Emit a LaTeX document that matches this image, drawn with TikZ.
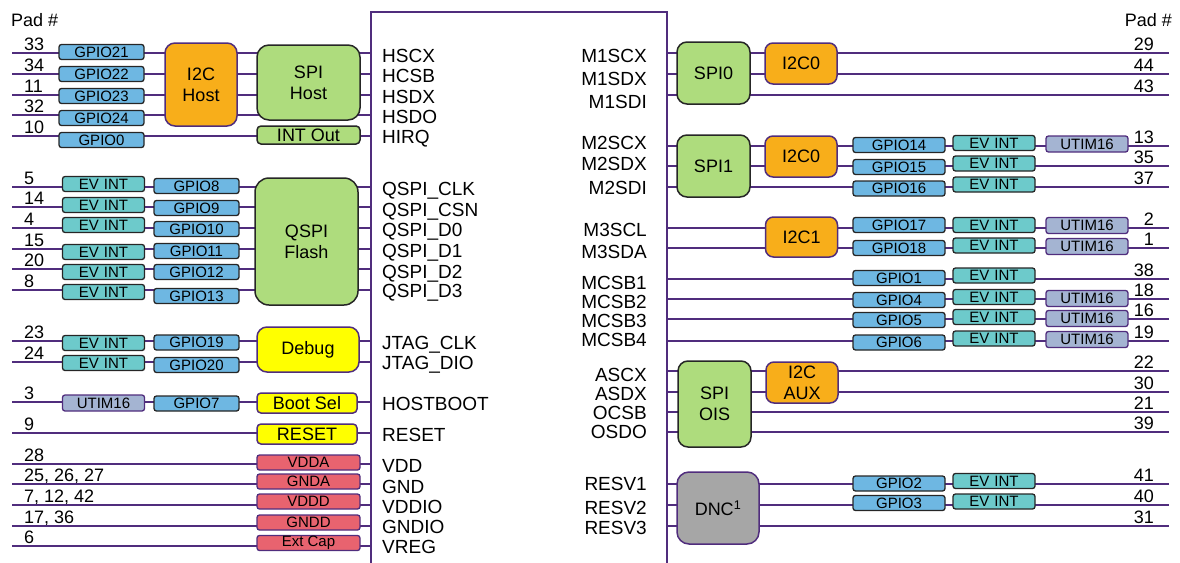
\documentclass[tikz,border=0pt]{standalone}
\usepackage{fontspec}
\setmainfont{Liberation Sans}
\definecolor{pinline}{HTML}{502D7D}
\definecolor{gpioblue}{HTML}{6EB7E2}
\definecolor{evteal}{HTML}{6DCACB}
\definecolor{utimgrey}{HTML}{A4B4D2}
\definecolor{i2corange}{HTML}{F8AE1A}
\definecolor{spigreen}{HTML}{AEDC7D}
\definecolor{bootyellow}{HTML}{FFFF00}
\definecolor{pwrred}{HTML}{E8636F}
\definecolor{dncgrey}{HTML}{A6A6A6}
\newcommand{\setsz}[1]{\fontsize{#1}{#1}\selectfont}
\newcommand{\evtxt}{EV\hspace{5pt}INT}

\begin{document}
\begin{tikzpicture}[x=1pt,y=-1pt,
  pin/.style={draw=pinline,line width=1.7pt},
  chipbox/.style={draw=pinline,line width=1.7pt,fill=white,inner sep=0,
    minimum width=296pt,minimum height=588pt},
  smallbox/.style={rounded corners=2.5pt,line width=1.3pt,inner sep=0,
    minimum height=15pt,font=\setsz{15}},
  gpio/.style={smallbox,draw=black!85,fill=gpioblue,minimum width=85pt},
  gpior/.style={gpio,minimum width=92pt},
  evint/.style={smallbox,draw=black!85,fill=evteal,minimum width=82pt},
  utim/.style={smallbox,draw=pinline,fill=utimgrey,minimum height=16pt,minimum width=82pt},
  pwrblk/.style={smallbox,draw=pinline,fill=pwrred,minimum width=103pt},
  bigbox/.style={rounded corners=10pt,line width=1.5pt,inner sep=0,align=center,
    font=\fontsize{18}{21}\selectfont},
  spiblk/.style={bigbox,draw=black!85,fill=spigreen},
  i2cblk/.style={bigbox,draw=pinline,fill=i2corange},
  yelblk/.style={bigbox,draw=pinline,fill=bootyellow},
  pinlbl/.style={font=\setsz{19},inner sep=0},
  padnum/.style={font=\setsz{18},inner sep=0}]
  \useasboundingbox (0,0) rectangle (1180,562);

  % the chip
  \node[chipbox] (chip) at (519,306) {};

  % left pads and their lines
  \node[padnum,anchor=base west] (padl) at (11,26.5) {Pad \#};
  \foreach \y/\n [count=\i] in {53/33, 74/34, 95/11, 115/32, 136/10,
      187/5, 207/14, 228/4, 249/15, 269/20, 290/8, 341/23, 362/24, 402/3,
      433/9, 464/28, 484/{25, 26, 27}, 505/{7, 12, 42}, 526/{17, 36}, 546/6} {
    \coordinate (L\i) at (12,\y);
    \node[padnum,anchor=base west] (LN\i) at (24,\y-3) {\n};
    \draw[pin] (L\i) -- (L\i -| chip.west);
  }

  % right pads and their lines
  \node[padnum,anchor=base east] (padr) at (1172,26.5) {Pad \#};
  \foreach \y/\n [count=\i] in {53/29, 74/44, 95/43, 146/13, 166/35, 187/37,
      228/2, 248/1, 279/38, 299/18, 319/16, 341/19, 371/22, 392/30, 412/21,
      432/39, 484/41, 505/40, 526/31} {
    \coordinate (R\i) at (1169,\y);
    \node[padnum,anchor=base east] (RN\i) at (1154,\y-3) {\n};
    \draw[pin] (R\i -| chip.east) -- (R\i);
  }

  % pin names
  \foreach \y/\t [count=\i] in {56/HSCX, 76/HCSB, 97/HSDX, 117/HSDO, 137/HIRQ,
      189/QSPI\_CLK, 210/QSPI\_CSN, 230/QSPI\_D0, 251/QSPI\_D1, 272/QSPI\_D2,
      291/QSPI\_D3, 343/JTAG\_CLK, 363/JTAG\_DIO, 404/HOSTBOOT, 435/RESET,
      466/VDD, 487/GND, 507/VDDIO, 527/GNDIO, 547/VREG}
    \node[pinlbl,anchor=base west] (PL\i) at (382,\y+6.5) {\t};
  \foreach \y/\t [count=\i] in {56/M1SCX, 79/M1SDX, 102/M1SDI, 143/M2SCX,
      164/M2SDX, 188/M2SDI, 230/M3SCL, 252/M3SDA, 283/MCSB1, 302/MCSB2,
      321/MCSB3, 340/MCSB4, 375/ASCX, 394/ASDX, 413/OCSB, 432/OSDO,
      484/RESV1, 508/RESV2, 528/RESV3}
    \node[pinlbl,anchor=base east] (PR\i) at (647,\y+6.5) {\t};

  % host interface
  \node[gpio] (g21) at (101.5,52) {GPIO21};
  \node[gpio] (g22) at (101.5,74) {GPIO22};
  \node[gpio] (g23) at (101.5,96) {GPIO23};
  \node[gpio] (g24) at (101.5,118) {GPIO24};
  \node[gpio] (g0) at (101.5,140) {GPIO0};
  \node[i2cblk,minimum width=72pt,minimum height=83pt] (i2chost) at (201,84.5) {I2C\\Host};
  \node[spiblk,rounded corners=12pt,minimum width=103pt,minimum height=75pt] (spihost) at (308.5,82.5) {SPI\\Host};
  \node[spiblk,rounded corners=4pt,minimum width=103pt,minimum height=18pt] (intout) at (308.5,135) {INT Out};

  % qspi flash
  \foreach \ye/\yg/\g [count=\i] in {184/186/8, 205/208/9, 225/229/10,
      252/251/11, 272/272/12, 292/296/13} {
    \node[evint] (evq\i) at (103.5,\ye) {\evtxt};
    \node[gpio] (g\g) at (196.5,\yg) {GPIO\g};
  }
  \node[spiblk,rounded corners=14pt,minimum width=103pt,minimum height=127pt] (qspi) at (306.5,241.5) {QSPI\\Flash};

  % debug, boot and reset
  \node[evint] (evd1) at (103.5,343) {\evtxt};
  \node[evint] (evd2) at (103.5,363) {\evtxt};
  \node[gpio] (g19) at (196.5,342.5) {GPIO19};
  \node[gpio] (g20) at (196.5,365) {GPIO20};
  \node[yelblk,minimum width=102pt,minimum height=45pt] (debug) at (308,349.5) {Debug};
  \node[utim] (utb) at (103.5,403) {UTIM16};
  \node[gpio] (g7) at (196.5,403.5) {GPIO7};
  \node[yelblk,rounded corners=4pt,minimum width=100pt,minimum height=20pt] (bootsel) at (307,403) {Boot Sel};
  \node[yelblk,rounded corners=4pt,minimum width=100pt,minimum height=20pt] (reset) at (307,434) {RESET};

  % supplies
  \node[pwrblk] (vdda) at (308.5,462.5) {VDDA};
  \node[pwrblk] (gnda) at (308.5,481.5) {GNDA};
  \node[pwrblk] (vddd) at (308.5,501.5) {VDDD};
  \node[pwrblk] (gndd) at (308.5,522.5) {GNDD};
  \node[pwrblk] (extcap) at (308.5,543) {Ext Cap};

  % secondary interfaces
  \node[spiblk,minimum width=73pt,minimum height=62pt] (spi0) at (713.5,73) {SPI0};
  \node[i2cblk,rounded corners=8pt,minimum width=72pt,minimum height=41pt] (i2c0a) at (801,63.5) {I2C0};
  \node[spiblk,minimum width=73pt,minimum height=62pt] (spi1) at (713.5,166) {SPI1};
  \node[i2cblk,rounded corners=8pt,minimum width=72pt,minimum height=41pt] (i2c0b) at (801,156.5) {I2C0};
  \node[i2cblk,rounded corners=8pt,minimum width=72pt,minimum height=40pt] (i2c1) at (801.5,237) {I2C1};
  \node[spiblk,minimum width=73pt,minimum height=86pt] (spiois) at (714.5,404) {SPI\\OIS};
  \node[i2cblk,rounded corners=8pt,minimum width=72pt,minimum height=41pt] (i2caux) at (802,382.5) {I2C\\AUX};
  \node[bigbox,draw=pinline,fill=dncgrey,rounded corners=12pt,minimum width=82pt,
    minimum height=72pt] (dnc) at (718,508) {DNC\textsuperscript{1}};

  % right gpio rows
  \foreach \yg/\g/\ye [count=\i] in {145/14/143, 167/15/163.5, 188.5/16/184.5,
      225/17/225, 248/18/245.5, 278/1/275.5, 300/4/297, 320/5/317,
      342.5/6/338.5, 483.5/2/481, 503/3/501.5} {
    \node[gpior] (g\g) at (899,\yg) {GPIO\g};
    \node[evint] (evr\i) at (994,\ye) {\evtxt};
  }
  \foreach \y [count=\i] in {144, 225.5, 246.5, 298.5, 318.5, 339.5}
    \node[utim] (ut\i) at (1087,\y) {UTIM16};
\end{tikzpicture}
\end{document}
